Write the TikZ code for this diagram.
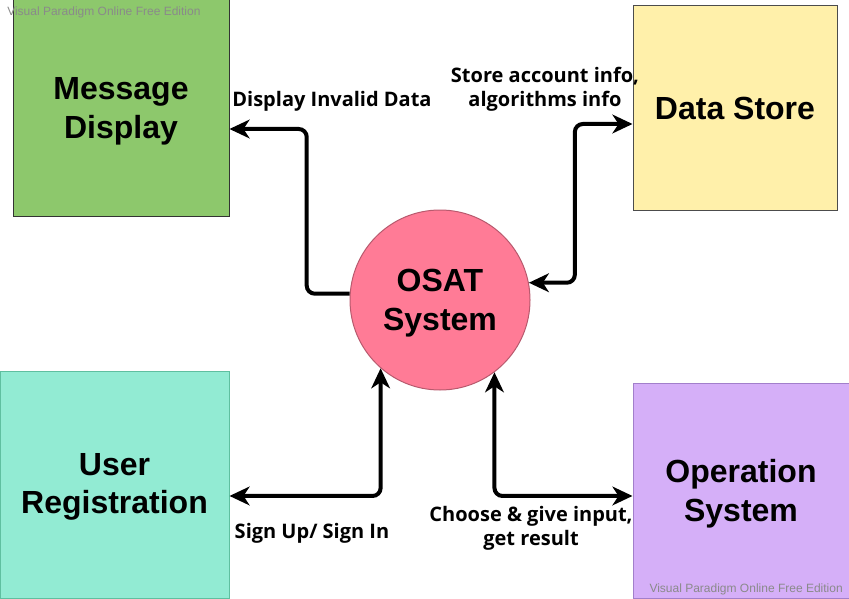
\documentclass[tikz,border=0pt]{standalone}
\usepackage{fontspec}
\setmainfont{Liberation Sans}
\newfontfamily\labfont{Open Sans}
\usetikzlibrary{arrows.meta}
\definecolor{mdfill}{HTML}{8DC86C}
\definecolor{dsfill}{HTML}{FFF0AA}
\definecolor{urfill}{HTML}{92EBD3}
\definecolor{urline}{HTML}{5FBFA0}
\definecolor{osfill}{HTML}{D5AFF8}
\definecolor{osline}{HTML}{A27FCB}
\definecolor{cfill}{HTML}{FF7B96}
\definecolor{cline}{HTML}{B85A6E}
\definecolor{wm}{HTML}{8A8A8A}
\tikzset{
  box/.style={draw, line width=0.75pt, inner sep=0pt},
  boxtext/.style={font=\bfseries\fontsize{24}{29}\selectfont, align=center, inner sep=0pt},
  lbl/.style={font=\labfont\bfseries\fontsize{15}{18}\selectfont, align=center, inner sep=0pt},
  flow/.style={line width=3pt, rounded corners=6pt, line cap=butt},
  tip/.style={-{Stealth[length=15pt,width=14pt,inset=4.5pt]}},
  tips/.style={{Stealth[length=15pt,width=14pt,inset=4.5pt]}-{Stealth[length=15pt,width=14pt,inset=4.5pt]}},
  wmark/.style={font=\fontsize{9}{11}\selectfont, text=wm, inner sep=0pt}
}
\begin{document}
\begin{tikzpicture}[x=0.75pt,y=-0.75pt]
\useasboundingbox (0,0) rectangle (849,599);
\node[box, fill=mdfill, draw=black!80, minimum width=162pt, minimum height=162pt] (md) at (121,108) {};
\node[box, fill=dsfill, draw=black!70, minimum width=153pt, minimum height=153pt] (ds) at (735,108) {};
\node[box, fill=urfill, draw=urline, minimum width=171.75pt, minimum height=170.25pt] (ur) at (114.5,484.5) {};
\node[box, fill=osfill, draw=osline, minimum width=162pt, minimum height=161.25pt] (os) at (741,490.5) {};
\node[box, circle, fill=cfill, draw=cline, minimum size=135pt] (osat) at (440,300) {};

\node[boxtext] (mdt) at (121,111) {Message\\Display};
\node[boxtext] (dst) at (735,108) {Data Store};
\node[boxtext] (urt) at (114.5,487) {User\\Registration};
\node[boxtext] (ost) at (741,494) {Operation\\System};
\node[boxtext] (osatt) at (440,303) {OSAT\\System};

\draw[flow, tip] (osat.176) -- ++(-43,0) |- ([yshift=-15.75pt]md.east);
\draw[flow, tips] (osat.11) -- ++(46,0) |- ([yshift=-12pt]ds.west);
\draw[flow, tips] ([yshift=-8.6pt]ur.east) -| (osat.229);
\draw[flow, tips] (osat.307) |- ([yshift=-4.1pt]os.west);

\node[lbl] (l1) at (332,101) {Display Invalid Data};
\node[lbl] (l2) at (545,89) {Store account info,\\algorithms info};
\node[lbl] (l3) at (312,533) {Sign Up/ Sign In};
\node[lbl] (l4) at (531,528) {Choose \& give input,\\get result};

\node[wmark, anchor=west] (w1) at (7,12) {Visual Paradigm Online Free Edition};
\node[wmark, anchor=east] (w2) at (843,589) {Visual Paradigm Online Free Edition};
\end{tikzpicture}
\end{document}
